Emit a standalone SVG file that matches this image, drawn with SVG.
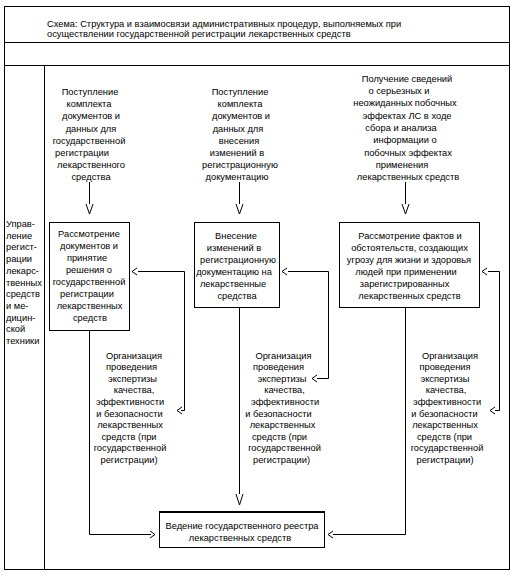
<svg xmlns="http://www.w3.org/2000/svg" width="523" height="576" viewBox="0 0 523 576">
<style>
text{font-family:"Liberation Sans",Arial,sans-serif;font-size:9.3px;fill:#000}
.c{text-anchor:middle}
.ln{fill:none;stroke:#000;stroke-width:1}
.ah{fill:none;stroke:#000;stroke-width:1}
</style>
<rect width="523" height="576" fill="#fff"/>
<g id="frame" class="ln">
<rect x="4.5" y="6.5" width="505" height="563"/>
<line x1="4.5" y1="42.5" x2="509.5" y2="42.5"/>
<line x1="4.5" y1="65.5" x2="509.5" y2="65.5"/>
<line x1="44.5" y1="65.5" x2="44.5" y2="569.5"/>
</g>
<g id="title">
<text x="47" y="26.5">Схема: Структура и взаимосвязи административных процедур, выполняемых при</text>
<text x="47" y="37">осуществлении государственной регистрации лекарственных средств</text>
</g>
<g id="lane-label">
<text x="6" y="227">Управ-</text>
<text x="6" y="238.7">ление</text>
<text x="6" y="250.4">регист-</text>
<text x="6" y="262.1">рации</text>
<text x="6" y="273.8">лекарс-</text>
<text x="6" y="285.5">твенных</text>
<text x="6" y="297.2">средств</text>
<text x="6" y="308.9">и ме-</text>
<text x="6" y="320.6">дицин-</text>
<text x="6" y="332.3">ской</text>
<text x="6" y="344">техники</text>
</g>
<g id="input1" class="c">
<text x="90" y="95.2">Поступление</text>
<text x="89" y="107.3">комплекта</text>
<text x="91" y="119.4">документов и</text>
<text x="91" y="131.5">данных для</text>
<text x="89" y="143.6">государственной</text>
<text x="82" y="155.7">регистрации</text>
<text x="91" y="167.8">лекарственного</text>
<text x="91" y="179.9">средства</text>
</g>
<g id="input2" class="c">
<text x="240" y="95.2">Поступление</text>
<text x="240" y="107.3">комплекта</text>
<text x="241" y="119.4">документов и</text>
<text x="238" y="131.5">данных для</text>
<text x="239" y="143.6">внесения</text>
<text x="237" y="155.7">изменений в</text>
<text x="240" y="167.8">регистрационную</text>
<text x="237" y="179.9">документацию</text>
</g>
<g id="input3" class="c">
<text x="407" y="81.8">Получение сведений</text>
<text x="399" y="94.1">о серьезных и</text>
<text x="405" y="106.4">неожиданных побочных</text>
<text x="407" y="118.7">эффектах ЛС в ходе</text>
<text x="401" y="131">сбора и анализа</text>
<text x="405" y="143.3">информации о</text>
<text x="408" y="155.6">побочных эффектах</text>
<text x="402" y="167.9">применения</text>
<text x="408" y="180.2">лекарственных средств</text>
</g>
<g id="box1">
<rect class="ln" x="49.5" y="222.5" width="80" height="108"/>
<g class="c">
<text x="89" y="236.5">Рассмотрение</text>
<text x="89" y="248.6">документов и</text>
<text x="87" y="260.7">принятие</text>
<text x="89" y="272.8">решения о</text>
<text x="89" y="284.9">государственной</text>
<text x="87" y="297">регистрации</text>
<text x="89.5" y="309.1">лекарственных</text>
<text x="90" y="321.2">средств</text>
</g>
</g>
<g id="box2">
<rect class="ln" x="194.5" y="222.5" width="85" height="85"/>
<g class="c">
<text x="236" y="238.5">Внесение</text>
<text x="234" y="250.5">изменений в</text>
<text x="238" y="262.5">регистрационную</text>
<text x="234" y="274.5">документацию на</text>
<text x="233" y="286.5">лекарственные</text>
<text x="237" y="298.5">средства</text>
</g>
</g>
<g id="box3">
<rect class="ln" x="339.5" y="222.5" width="140" height="85"/>
<g class="c">
<text x="410" y="238.5">Рассмотрение фактов и</text>
<text x="409.5" y="250.5">обстоятельств, создающих</text>
<text x="409" y="262.5">угрозу для жизни и здоровья</text>
<text x="406" y="274.5">людей при применении</text>
<text x="404.5" y="286.5">зарегистрированных</text>
<text x="409.5" y="298.5">лекарственных средств</text>
</g>
</g>
<g id="expertise1" class="c">
<text x="134" y="358.5">Организация</text>
<text x="131.5" y="370.1">проведения</text>
<text x="132.5" y="381.7">экспертизы</text>
<text x="134" y="393.3">качества,</text>
<text x="130" y="404.9">эффективности</text>
<text x="129.5" y="416.5">и безопасности</text>
<text x="130" y="428.1">лекарственных</text>
<text x="129" y="439.7">средств (при</text>
<text x="130" y="451.3">государственной</text>
<text x="129" y="462.9">регистрации)</text>
</g>
<g id="expertise2" class="c">
<text x="283.5" y="358.5">Организация</text>
<text x="278.5" y="370.1">проведения</text>
<text x="282" y="381.7">экспертизы</text>
<text x="284.5" y="393.3">качества,</text>
<text x="285" y="404.9">эффективности</text>
<text x="278.5" y="416.5">и безопасности</text>
<text x="282.5" y="428.1">лекарственных</text>
<text x="279.5" y="439.7">средств (при</text>
<text x="284.5" y="451.3">государственной</text>
<text x="281.5" y="462.9">регистрации)</text>
</g>
<g id="expertise3" class="c">
<text x="450" y="358.5">Организация</text>
<text x="445" y="370.1">проведения</text>
<text x="445" y="381.7">экспертизы</text>
<text x="446" y="393.3">качества,</text>
<text x="447" y="404.9">эффективности</text>
<text x="444.5" y="416.5">и безопасности</text>
<text x="445" y="428.1">лекарственных</text>
<text x="444.5" y="439.7">средств (при</text>
<text x="447" y="451.3">государственной</text>
<text x="445" y="462.9">регистрации)</text>
</g>
<g id="registry">
<rect class="ln" x="159.5" y="511.5" width="165" height="36"/>
<line class="ln" x1="159.5" y1="512.5" x2="324.5" y2="512.5"/>
<g class="c">
<text x="242" y="528.5">Ведение государственного реестра</text>
<text x="240" y="540.5">лекарственных средств</text>
</g>
</g>
<g id="connectors">
<g class="ln">
<path d="M89.5 182V204"/>
<path d="M239.5 182V204"/>
<path d="M405.5 182V204"/>
<path d="M89.5 330.5V534.5H151"/>
<path d="M239.5 307.5V494"/>
<path d="M405.5 307.5V534.5H333"/>
<path d="M138 271.5H184.5V410.5H181"/>
<path d="M288 271.5H328.5V378.5H317"/>
<path d="M488 271.5H499.5V410.5H495"/>
</g>
<g class="ah">
<path d="M86 204L89.5 214L93 204"/>
<path d="M236 204L239.5 214L243 204"/>
<path d="M402 204L405.5 214L409 204"/>
<path d="M236 494L239.5 505L243 494"/>
<path d="M150 531L155 534.5L150 538"/>
<path d="M333 531L328 534.5L333 538"/>
<path d="M137 268L132 271.5L137 275"/>
<path d="M182 407L177 410.5L182 414"/>
<path d="M287 268L282 271.5L287 275"/>
<path d="M317 375L312 378.5L317 382"/>
<path d="M487 268L482 271.5L487 275"/>
<path d="M495 407L490 410.5L495 414"/>
</g>
</g>
</svg>
